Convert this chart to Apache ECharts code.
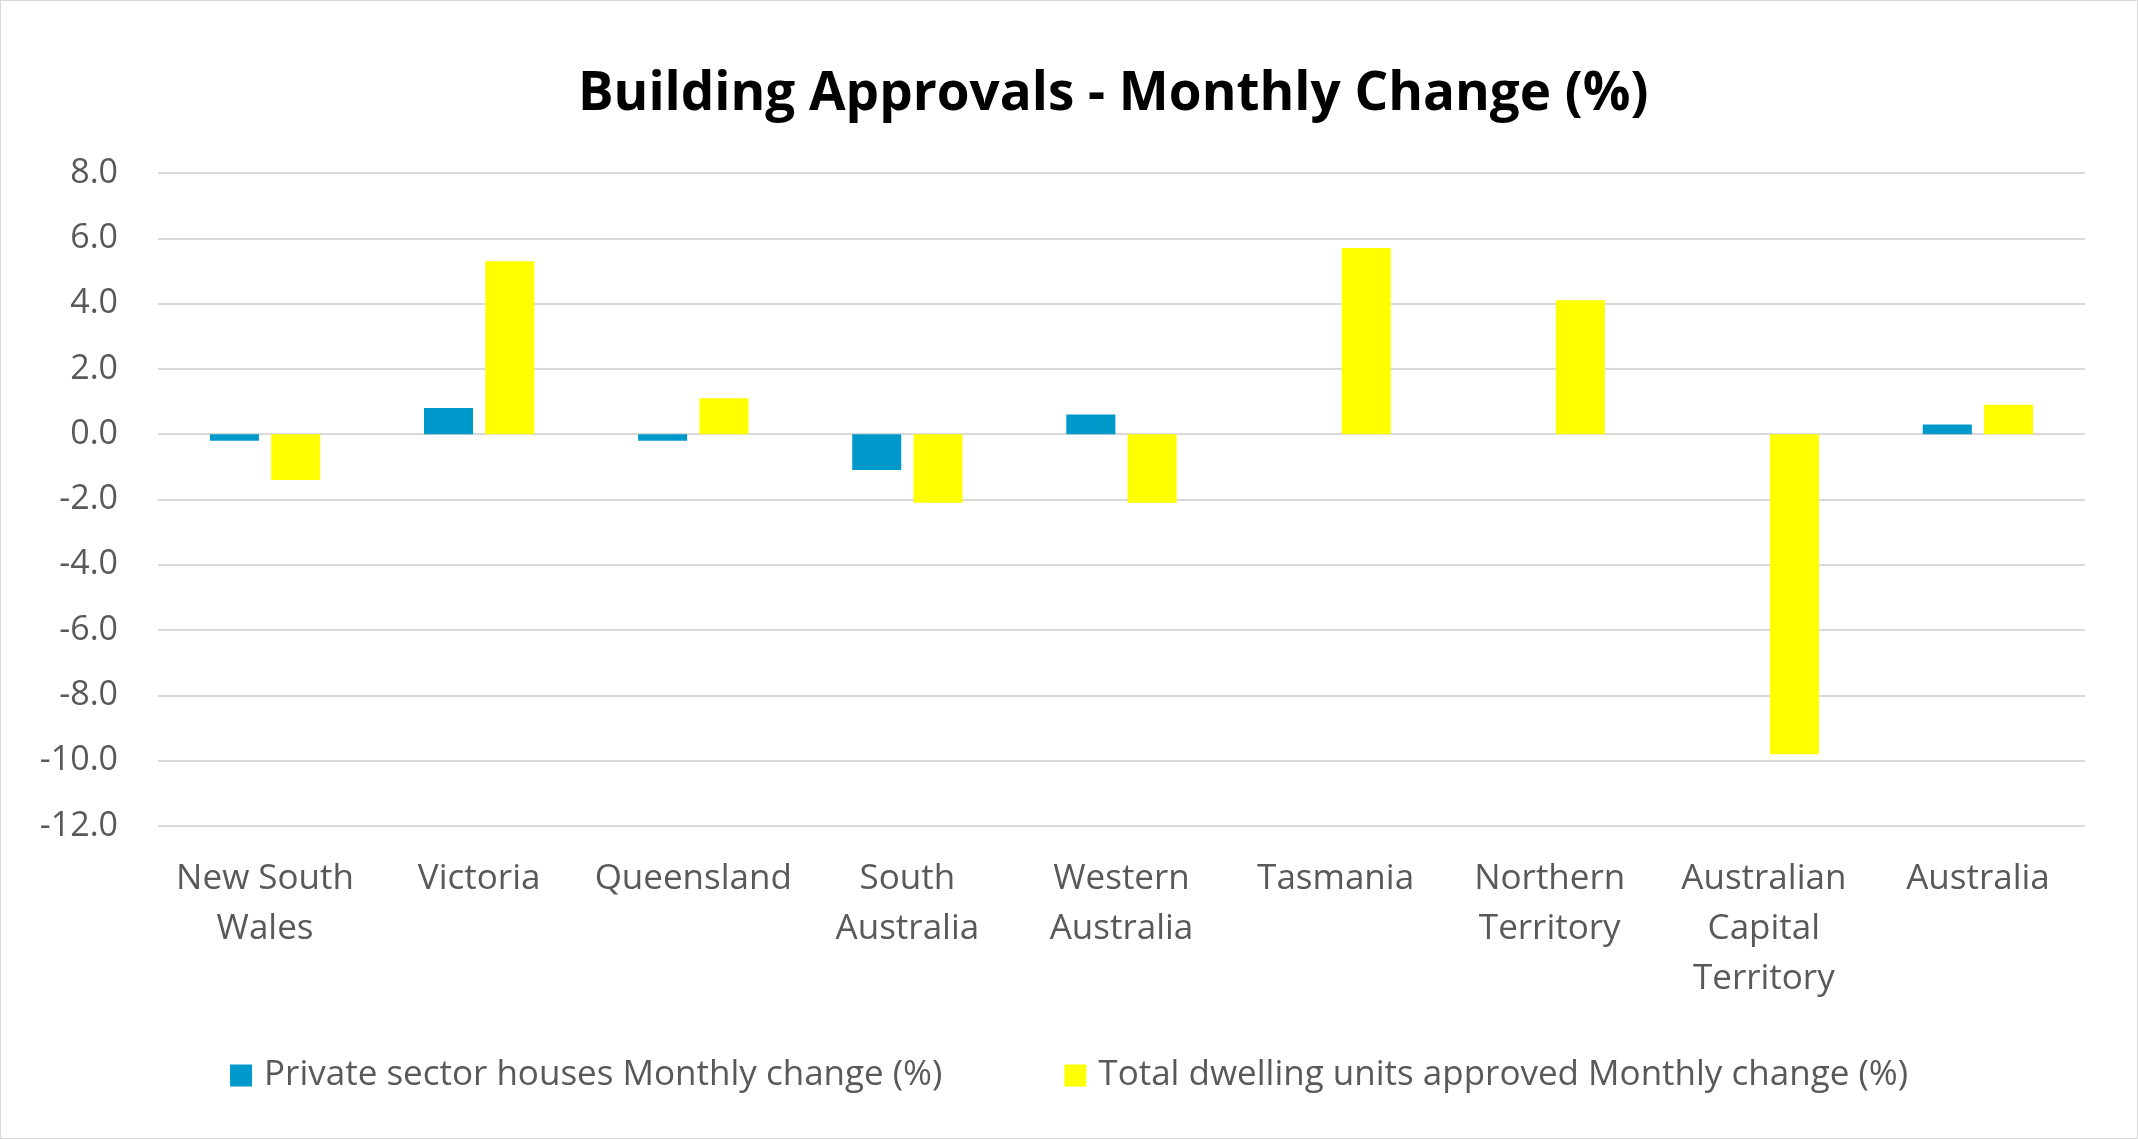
<!DOCTYPE html>
<html>
<head>
<meta charset="utf-8">
<script src="https://cdn.jsdelivr.net/npm/echarts@6/dist/echarts.min.js"></script>
<style>
html,body{margin:0;padding:0;background:#fff;}
#wrap{position:absolute;left:0;top:0;width:2136px;height:1137px;border:1px solid #d9d9d9;}
#chart{width:2136px;height:1137px;}
</style>
</head>
<body>
<div id="wrap"><div id="chart"></div></div>
<script>
const categories = ["New South\nWales","Victoria","Queensland","South\nAustralia","Western\nAustralia","Tasmania","Northern\nTerritory","Australian\nCapital\nTerritory","Australia"];
const privateHouses = [-0.2, 0.8, -0.2, -1.1, 0.6, 0.0, 0.0, 0.0, 0.3];
const totalDwellings = [-1.4, 5.3, 1.1, -2.1, -2.1, 5.7, 4.1, -9.8, 0.9];
const seriesNames = ["Private sector houses Monthly change (%)", "Total dwelling units approved Monthly change (%)"];
const yMin = -12, yMax = 8, yStep = 2;

const chart = echarts.init(document.getElementById('chart'));
const font = "'Open Sans', sans-serif";
chart.setOption({
  animation: false,
  title: {
    text: "Building Approvals - Monthly Change (%)",
    left: 572, top: 62,
    textStyle: {fontFamily: font, fontWeight: 'bold', fontSize: 53, color: '#000'}
  },
  legend: {
    bottom: 40, left: 'center', itemGap: 122,
    itemWidth: 22, itemHeight: 22, icon: 'rect',
    textStyle: {fontFamily: font, fontSize: 35, color: '#595959', padding: [0, 0, 0, 7]},
    data: seriesNames
  },
  grid: {left: 157, right: 52, top: 172, bottom: 312, containLabel: false},
  xAxis: {
    type: 'category', data: categories, position: 'bottom',
    axisLine: {show: false, onZero: false}, axisTick: {show: false},
    axisLabel: {fontFamily: font, fontSize: 35, color: '#595959', margin: 28, lineHeight: 50, interval: 0}
  },
  yAxis: {
    type: 'value', min: yMin, max: yMax, interval: yStep,
    axisLine: {show: false}, axisTick: {show: false},
    axisLabel: {fontFamily: font, fontSize: 34, color: '#595959', margin: 40, formatter: v => v.toFixed(1)},
    splitLine: {lineStyle: {color: '#d9d9d9', width: 2}}
  },
  series: [
    {name: seriesNames[0], type: 'bar', data: privateHouses, barWidth: '22.9%', barGap: '25%', itemStyle: {color: '#0099CC'}},
    {name: seriesNames[1], type: 'bar', data: totalDwellings, barWidth: '22.9%', itemStyle: {color: '#FFFF00'}}
  ]
});
</script>
</body>
</html>
